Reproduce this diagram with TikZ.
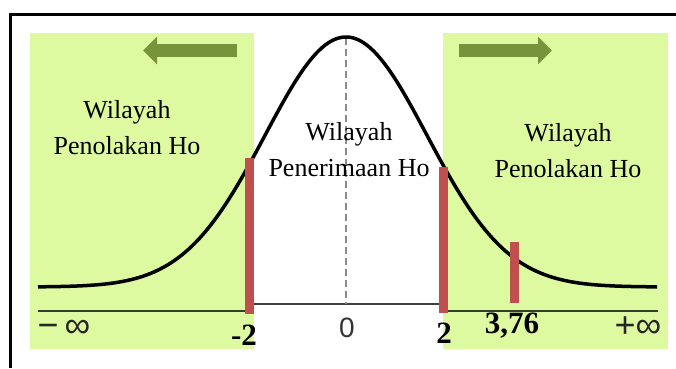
\documentclass[tikz,border=0pt]{standalone}
\usepackage{fontspec}
\setmainfont{Liberation Serif}
\newfontfamily\axisfont{Liberation Sans}
\usetikzlibrary{arrows.meta}
\definecolor{regiongreen}{RGB}{221,250,160}
\definecolor{arrowgreen}{RGB}{119,147,60}
\definecolor{barred}{RGB}{192,80,77}
\definecolor{axisolive}{RGB}{50,62,40}

\tikzset{
  region/.style={fill=regiongreen, draw=none},
  critbar/.style={fill=barred, draw=none},
  regiontext/.style={align=center, font=\fontsize{26}{36}\selectfont},
  valuetext/.style={anchor=base, font=\fontsize{31}{36}\selectfont\bfseries},
  infty/.style={anchor=base, text=black!85, font=\axisfont\fontsize{36}{40}\selectfont},
  shift arrow/.style={line width=13pt, arrowgreen, -{Triangle[width=27pt,length=14pt]}}
}

\begin{document}
\begin{tikzpicture}[x=1pt, y=-1pt]
  \useasboundingbox (0,0) rectangle (676,368);
  % frame (cut off on the right and at the bottom)
  \draw[line width=3pt] (10.5,368) -- (10.5,14) -- (676,14);
  % rejection regions
  \fill[region] (30,33) rectangle (254,349);
  \fill[region] (443,33) rectangle (668,349);
  % axis
  \draw[axisolive, line width=2.5pt] (38,311) -- (245,311);
  \draw[black!75, line width=2.5pt] (254,304) -- (439,304);
  \draw[axisolive, line width=2.5pt] (448,311) -- (658,311);
  % mean line
  \draw[black!45, line width=1.5pt, dash pattern=on 7pt off 4pt] (346,38) -- (346,304);
  % normal curve
  \draw[line width=3.5pt] plot[domain=38:657, samples=160, smooth]
    (\x, {287-250*exp(-0.5*pow((\x-346)/81,2))});
  % critical values
  \fill[critbar] (245,158) rectangle (254,314);
  \fill[critbar] (439,167) rectangle (448,313);
  \fill[critbar] (510,242) rectangle (519,303);
  % arrows
  \coordinate (lstart) at (237,50.5);
  \coordinate (lend) at (143,50.5);
  \coordinate (rstart) at (459,50.5);
  \coordinate (rend) at (552,50.5);
  \draw[shift arrow] (lstart) -- (lend);
  \draw[shift arrow] (rstart) -- (rend);
  % region labels
  \node[regiontext] (tolakkiri) at (127,128) {Wilayah\\Penolakan Ho};
  \node[regiontext] (terima) at (349,150) {Wilayah\\Penerimaan Ho};
  \node[regiontext] (tolakkanan) at (568,151) {Wilayah\\Penolakan Ho};
  % axis labels
  \node[infty] (neginf) at (64,337) {\textminus\,∞};
  \node[infty] (posinf) at (638,337) {+∞};
  \node[anchor=base, text=black!80, font=\axisfont\fontsize{28}{32}\selectfont] (nol) at (347,337) {0};
  \node[valuetext] (kritkiri) at (244,345) {-2};
  \node[valuetext] (kritkanan) at (444,343) {2};
  \node[valuetext] (hitung) at (512,333) {3,76};
\end{tikzpicture}
\end{document}
